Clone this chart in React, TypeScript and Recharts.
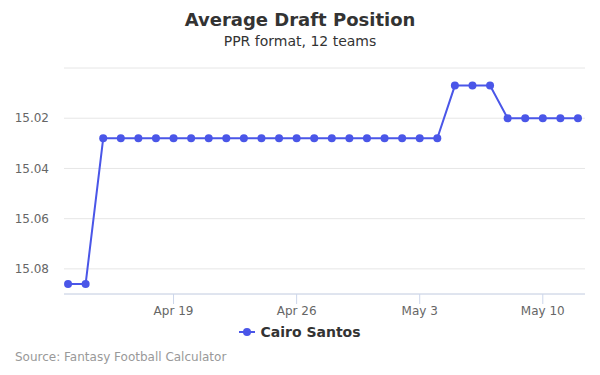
import { LineChart, Line, XAxis, YAxis, CartesianGrid } from 'recharts'

const dates = [
  'Apr 13', 'Apr 14', 'Apr 15', 'Apr 16', 'Apr 17', 'Apr 18', 'Apr 19', 'Apr 20', 'Apr 21', 'Apr 22',
  'Apr 23', 'Apr 24', 'Apr 25', 'Apr 26', 'Apr 27', 'Apr 28', 'Apr 29', 'Apr 30', 'May 1', 'May 2',
  'May 3', 'May 4', 'May 5', 'May 6', 'May 7', 'May 8', 'May 9', 'May 10', 'May 11', 'May 12',
]

const adp = [
  15.086, 15.086, 15.028, 15.028, 15.028, 15.028, 15.028, 15.028, 15.028, 15.028,
  15.028, 15.028, 15.028, 15.028, 15.028, 15.028, 15.028, 15.028, 15.028, 15.028,
  15.028, 15.028, 15.007, 15.007, 15.007, 15.02, 15.02, 15.02, 15.02, 15.02,
]

const xTickLabels = ['Apr 19', 'Apr 26', 'May 3', 'May 10']
const yTicks = [15.0, 15.02, 15.04, 15.06, 15.08]

const data = dates.map((d, i) => ({ day: i, label: d, adp: adp[i] }))
const xTicks = xTickLabels.map((l) => dates.indexOf(l))

const font = '"DejaVu Sans", sans-serif'
const blue = '#4a56e8'

export default function App() {
  return (
    <div style={{ position: 'absolute', left: 0, top: 0, width: 600, height: 375, background: '#fff', fontFamily: font }}>
      <div style={{ position: 'absolute', top: 9, width: 600, textAlign: 'center', fontSize: 18, fontWeight: 'bold', color: '#333' }}>
        Average Draft Position
      </div>
      <div style={{ position: 'absolute', top: 33, width: 600, textAlign: 'center', fontSize: 14, color: '#333' }}>
        PPR format, 12 teams
      </div>
      <LineChart width={600} height={375} data={data} margin={{ top: 68, right: 15, bottom: 81 - 30, left: 0 }}>
        <CartesianGrid vertical={false} stroke="#e6e6e6" />
        <XAxis
          dataKey="day"
          type="number"
          domain={[-0.23, 29.4]}
          ticks={xTicks}
          tickFormatter={(v) => dates[v]}
          height={30}
          stroke="#ccd6eb"
          tickSize={10}
          tickMargin={2}
          tick={{ fill: '#666', fontSize: 12 }}
        />
        <YAxis
          dataKey="adp"
          type="number"
          reversed
          domain={[15.0, 15.09]}
          ticks={yTicks}
          tickFormatter={(v) => (v === 15.0 ? '' : v.toFixed(2))}
          width={64}
          axisLine={false}
          tickLine={false}
          tickMargin={9}
          tick={{ fill: '#666', fontSize: 12 }}
        />
        <Line
          dataKey="adp"
          stroke={blue}
          strokeWidth={2}
          dot={{ r: 4, fill: blue, stroke: blue, strokeWidth: 0 }}
          isAnimationActive={false}
        />
      </LineChart>
      <div style={{ position: 'absolute', top: 324, width: 600, display: 'flex', justifyContent: 'center', alignItems: 'center' }}>
        <svg width={16} height={10} style={{ marginRight: 5 }}>
          <line x1={0} y1={5} x2={16} y2={5} stroke={blue} strokeWidth={2} />
          <circle cx={8} cy={5} r={4} fill={blue} />
        </svg>
        <span style={{ fontSize: 14, fontWeight: 'bold', color: '#333' }}>Cairo Santos</span>
      </div>
      <div style={{ position: 'absolute', top: 350, left: 15, fontSize: 12, color: '#999' }}>
        Source: Fantasy Football Calculator
      </div>
    </div>
  )
}
